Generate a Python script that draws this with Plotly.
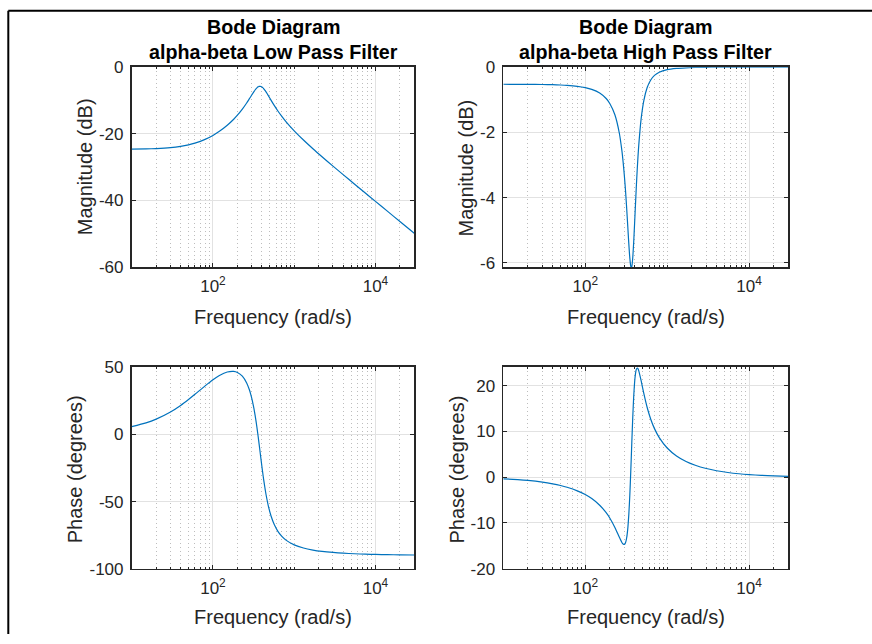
import plotly.graph_objects as go

# ---------------- data ----------------
freq = [10, 15, 20, 30, 40, 50, 60, 80, 100, 120, 150, 180, 200, 230, 260, 280, 290,
        300, 310, 320, 330, 340, 350, 360, 365, 370, 380, 390, 400, 410, 420, 430, 440,
        450, 480, 520, 570, 630, 700, 800, 1000, 1300, 1700, 2200, 3000, 4000, 5500,
        7500, 10000, 14000, 20000, 30000]

lp_mag = [-24.59, -24.52, -24.41, -24.12, -23.74, -23.29, -22.78, -21.66, -20.47, -19.26,
          -17.44, -15.63, -14.42, -12.59, -10.75, -9.54, -8.95, -8.37, -7.82, -7.32, -6.86,
          -6.46, -6.15, -5.92, -5.84, -5.79, -5.75, -5.81, -5.95, -6.16, -6.42, -6.73, -7.07,
          -7.42, -8.53, -9.97, -11.55, -13.15, -14.69, -16.46, -19.09, -21.86, -24.48,
          -26.88, -29.68, -32.24, -35.03, -37.75, -40.25, -43.18, -46.28, -49.81]

lp_phase = [5.78, 8.62, 11.40, 16.69, 21.57, 25.97, 29.86, 36.18, 40.77, 43.92, 46.49,
            46.94, 46.17, 43.38, 38.32, 33.41, 30.41, 27.02, 23.21, 18.99, 14.34, 9.33,
            3.98, -1.58, -4.41, -7.25, -12.91, -18.43, -23.71, -28.67, -33.26, -37.46,
            -41.28, -44.74, -53.16, -60.97, -67.33, -72.16, -75.74, -78.91, -82.27, -84.61,
            -86.12, -87.10, -87.92, -88.46, -88.89, -89.19, -89.39, -89.57, -89.70, -89.80]

hp_mag = [-0.525, -0.526, -0.527, -0.532, -0.539, -0.548, -0.559, -0.588, -0.628, -0.681,
          -0.793, -0.962, -1.12, -1.46, -2.01, -2.56, -2.91, -3.32, -3.78, -4.31, -4.86,
          -5.40, -5.85, -6.11, -6.13, -6.11, -5.84, -5.37, -4.80, -4.22, -3.67, -3.18,
          -2.75, -2.39, -1.60, -1.01, -0.625, -0.393, -0.254, -0.156, -0.077, -0.038,
          -0.020, -0.011, -0.0057, -0.003, -0.0017, -0.001, -0.0005, -0.0003, -0.0001,
          -0.0001]

hp_phase = [-0.36, -0.54, -0.72, -1.09, -1.46, -1.83, -2.21, -2.99, -3.81, -4.69, -6.13,
            -7.76, -8.97, -10.99, -13.10, -14.27, -14.63, -14.71, -14.34, -13.30, -11.36,
            -8.24, -3.85, 1.61, 4.56, 7.53, 13.04, 17.49, 20.64, 22.57, 23.55, 23.85, 23.69,
            23.22, 21.12, 18.17, 15.21, 12.66, 10.60, 8.64, 6.37, 4.63, 3.42, 2.60, 1.88,
            1.40, 1.02, 0.745, 0.556, 0.397, 0.278, 0.186]

x_tick_vals = [100, 10000]
x_tick_text = ["10<sup>2</sup>", "10<sup>4</sup>"]
x_minor_vals = [20, 30, 40, 50, 60, 70, 80, 90,
                200, 300, 400, 500, 600, 700, 800, 900, 1000,
                2000, 3000, 4000, 5000, 6000, 7000, 8000, 9000,
                20000, 30000]

lp_mag_ticks = [-60, -40, -20, 0]
hp_mag_ticks = [-6, -4, -2, 0]
lp_ph_ticks = [-100, -50, 0, 50]
hp_ph_ticks = [-20, -10, 0, 10, 20]

titles_line1 = ["Bode Diagram", "Bode Diagram"]
titles_line2 = ["alpha-beta Low Pass Filter", "alpha-beta High Pass Filter"]
x_label = "Frequency (rad/s)"
mag_label = "Magnitude (dB)"
phase_label = "Phase (degrees)"

# ---------------- styling ----------------
W, H = 872, 644
FONT = "Liberation Sans, Arial, Helvetica, sans-serif"
AX = "#262626"
BLUE = "#0072BD"


def px(x):
    return x / W


def py(t):
    # vertical page position (as measured on the reference) -> paper fraction,
    # corrected for the slight vertical squeeze seen in the rendered snapshot
    y = (t - 8.6) / 0.970
    return 1 - y / H


col_dom = [[px(131.7), px(414.3)], [px(503.3), px(788.3)]]
row_dom = [[py(266.7), py(66.7)], [py(568), py(366.7)]]


def xaxis(dom, anchor):
    return dict(
        type="log", range=[1.0, 4.478], domain=dom, anchor=anchor,
        tickvals=x_tick_vals, ticktext=x_tick_text,
        ticks="inside", ticklen=4, tickwidth=1, tickcolor=AX,
        showline=True, linecolor=AX, linewidth=1.8, mirror="ticks",
        showgrid=True, gridcolor="#e2e2e2", gridwidth=1, zeroline=False,
        tickfont=dict(family=FONT, size=17, color=AX),
        ticklabelstandoff=3,
        minor=dict(tickvals=x_minor_vals, ticks="inside", ticklen=2, tickcolor=AX,
                   showgrid=True, gridcolor="#bdbdbd", griddash="1px,3px", gridwidth=1),
        layer="below traces", fixedrange=True,
    )


def yaxis(dom, anchor, rng, ticks):
    return dict(
        range=rng, domain=dom, anchor=anchor,
        tickvals=ticks, ticktext=[str(t) for t in ticks],
        ticks="inside", ticklen=4, tickwidth=1, tickcolor=AX,
        showline=True, linecolor=AX, linewidth=1.8, mirror="ticks",
        showgrid=True, gridcolor="#e2e2e2", gridwidth=1, zeroline=False,
        tickfont=dict(family=FONT, size=17, color=AX),
        ticklabelstandoff=3,
        layer="below traces", fixedrange=True,
    )


fig = go.Figure()
series = [(lp_mag, "x", "y"), (hp_mag, "x2", "y2"), (lp_phase, "x3", "y3"), (hp_phase, "x4", "y4")]
for ys, xa, ya in series:
    fig.add_trace(go.Scatter(x=freq, y=ys, xaxis=xa, yaxis=ya, mode="lines",
                             line=dict(color=BLUE, width=1.2, shape="spline", smoothing=0.6),
                             showlegend=False, hoverinfo="skip"))

layout = dict(
    width=W, height=H, autosize=False,
    margin=dict(l=0, r=0, t=0, b=0),
    paper_bgcolor="white", plot_bgcolor="white",
    xaxis=xaxis(col_dom[0], "y"),
    yaxis=yaxis(row_dom[0], "x", [-60, 0], lp_mag_ticks),
    xaxis2=xaxis(col_dom[1], "y2"),
    yaxis2=yaxis(row_dom[0], "x2", [-6.13, 0], hp_mag_ticks),
    xaxis3=xaxis(col_dom[0], "y3"),
    yaxis3=yaxis(row_dom[1], "x3", [-100, 50], lp_ph_ticks),
    xaxis4=xaxis(col_dom[1], "y4"),
    yaxis4=yaxis(row_dom[1], "x4", [-20, 24], hp_ph_ticks),
    hovermode=False,
)
fig.update_layout(**layout)

ann = []
centers = [273.0, 645.8]
for i, cx in enumerate(centers):
    ann.append(dict(text="<b>%s</b>" % titles_line1[i], x=px(cx), y=py(26.7), size=19.7))
    ann.append(dict(text="<b>%s</b>" % titles_line2[i], x=px(cx), y=py(51.7), size=19.7))
    ann.append(dict(text=x_label, x=px(cx), y=py(316.7), font_color=AX))
    ann.append(dict(text=x_label, x=px(cx), y=py(616.7), font_color=AX))
ann.append(dict(text=mag_label, x=px(85), y=py(166.7), textangle=-90, font_color=AX))
ann.append(dict(text=mag_label, x=px(465.5), y=py(167.5), textangle=-90, font_color=AX))
ann.append(dict(text=phase_label, x=px(75.3), y=py(468.3), textangle=-90, font_color=AX))
ann.append(dict(text=phase_label, x=px(456.7), y=py(469.2), textangle=-90, font_color=AX))

for a in ann:
    color = a.pop("font_color", "black")
    size = a.pop("size", 20)
    fig.add_annotation(xref="paper", yref="paper", xanchor="center", yanchor="middle",
                       showarrow=False, font=dict(family=FONT, size=size, color=color), **a)

# outer figure frame (left and top edges visible in the reference)
fig.add_shape(type="line", xref="paper", yref="paper", x0=px(8.3), y0=py(10.3), x1=1.0, y1=py(10.3),
              line=dict(color="black", width=2))
fig.add_shape(type="line", xref="paper", yref="paper", x0=px(8.3), y0=py(10.3), x1=px(8.3), y1=0.0,
              line=dict(color="black", width=2))

pin_page = (
    "var gd=document.getElementById('{plot_id}');"
    "document.documentElement.style.margin='0';"
    "document.documentElement.style.overflow='hidden';"
    "document.body.style.margin='0';document.body.style.padding='0';"
    "document.body.style.overflow='hidden';document.body.style.height='644px';"
    "gd.style.position='fixed';gd.style.top='0px';gd.style.left='0px';"
)

fig.write_html("out.html", config={"displayModeBar": False, "staticPlot": True},
               post_script=pin_page)
